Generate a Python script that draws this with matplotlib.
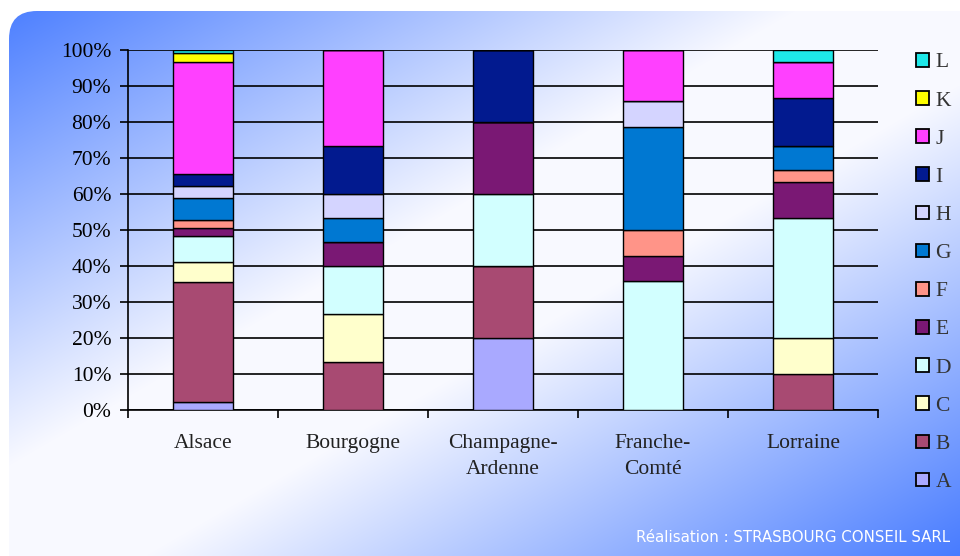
import numpy as np
import matplotlib
matplotlib.use("Agg")
import matplotlib.pyplot as plt
from matplotlib.patches import FancyBboxPatch, Patch

# Data: share (%) of each category A..L per region
regions = ["Alsace", "Bourgogne", "Champagne-\nArdenne", "Franche-\nComté", "Lorraine"]
series_names = ["A", "B", "C", "D", "E", "F", "G", "H", "I", "J", "K", "L"]

A = [2.1, 0.0, 20.0, 0.0, 0.0]
B = [33.4, 13.33, 20.0, 0.0, 10.0]
C = [5.6, 13.33, 0.0, 0.0, 10.0]
D = [7.1, 13.33, 20.0, 35.71, 33.33]
E = [2.4, 6.67, 20.0, 7.14, 10.0]
F = [2.1, 0.0, 0.0, 7.14, 3.33]
G = [6.2, 6.67, 0.0, 28.57, 6.67]
H = [3.3, 6.67, 0.0, 7.14, 0.0]
I = [3.4, 13.33, 20.0, 0.0, 13.33]
J = [31.2, 26.67, 0.0, 14.29, 10.0]
K = [2.3, 0.0, 0.0, 0.0, 0.0]
L = [0.9, 0.0, 0.0, 0.0, 3.33]

series_values = [A, B, C, D, E, F, G, H, I, J, K, L]
colors = ["#a9a9ff", "#a84a72", "#ffffcc", "#d2ffff", "#7a1874", "#ff9488",
          "#0078d2", "#d4d4ff", "#021a8f", "#ff40ff", "#ffff00", "#1ee8e8"]

SERIF = "Liberation Serif"
FS = 15.5

W, Hpx = 960, 556
fig = plt.figure(figsize=(W / 100, Hpx / 100), dpi=100)
fig.patch.set_facecolor("white")

# Diagonal gradient panel: blue corners, soft pale band across the middle
bg = fig.add_axes([0, 0, 1, 1])
bg.set_xlim(0, W)
bg.set_ylim(Hpx, 0)
bg.axis("off")
xx, yy = np.meshgrid(np.linspace(0, 1, 480), np.linspace(0, 1, 278))
t = (xx + yy) / 2.0
raw = np.abs(t - 0.5) / 0.5
d = np.clip((raw - 0.15) / 0.85, 0, 1)
blue = np.array([72, 124, 255]) / 255.0
pale = np.array([0.975, 0.978, 1.0])
img = pale[None, None, :] * (1 - d[..., None]) + blue[None, None, :] * d[..., None]
im = bg.imshow(img, extent=(0, W, Hpx, 0), aspect="auto", interpolation="bilinear")
panel = FancyBboxPatch((9, 11), W + 30, Hpx + 30,
                       boxstyle="round,pad=0,rounding_size=28",
                       transform=bg.transData, facecolor="none", edgecolor="none")
bg.add_patch(panel)
im.set_clip_path(panel)

bg.text(950, 537, "Réalisation : STRASBOURG CONSEIL SARL", color="white",
        fontsize=10.8, ha="right", va="center", family="DejaVu Sans")

# Stacked 100% bars
ax = fig.add_axes([128 / W, 1 - 410 / Hpx, 750 / W, 360 / Hpx])
ax.patch.set_alpha(0)
x = np.arange(len(regions))
bottom = np.zeros(len(regions))
for name, vals, col in zip(series_names, series_values, colors):
    v = np.array(vals)
    ax.bar(x, v, 0.4, bottom=bottom, color=col, edgecolor="black",
           linewidth=1.0, label=name, zorder=3)
    bottom += v

ax.set_xlim(-0.5, len(regions) - 0.5)
ax.set_ylim(0, 100)
yt = np.arange(0, 101, 10)
ax.set_yticks(yt)
ax.set_yticklabels([f"{v}%" for v in yt], family=SERIF, fontsize=FS, color="#222222")
ax.yaxis.grid(True, color="black", linewidth=1.2, zorder=0)
ax.set_axisbelow(True)
ax.tick_params(axis="y", length=6, width=1.2, pad=6, colors="black")
ax.set_xticks(x)
ax.set_xticklabels(regions, family=SERIF, fontsize=FS, linespacing=1.55, color="#222222")
ax.set_xticks(np.arange(-0.5, len(regions)), minor=True)
ax.tick_params(axis="x", which="major", length=0, pad=17)
ax.tick_params(axis="x", which="minor", length=6, width=1.2, direction="out")
for s in ["top", "right"]:
    ax.spines[s].set_visible(False)
for s in ["left", "bottom"]:
    ax.spines[s].set_linewidth(1.2)

handles = [Patch(facecolor=c, edgecolor="black", linewidth=1.3) for c in colors]
leg = fig.legend(handles[::-1], series_names[::-1], loc="upper left",
                 bbox_to_anchor=(916 / W, 1 - 53 / Hpx), frameon=False,
                 prop={"family": SERIF, "size": FS},
                 handlelength=0.6, handleheight=0.6, handletextpad=0.3,
                 labelspacing=0.87, borderpad=0, borderaxespad=0)
for txt in leg.get_texts():
    txt.set_color("#333333")

fig.savefig("out.png", dpi=100)
